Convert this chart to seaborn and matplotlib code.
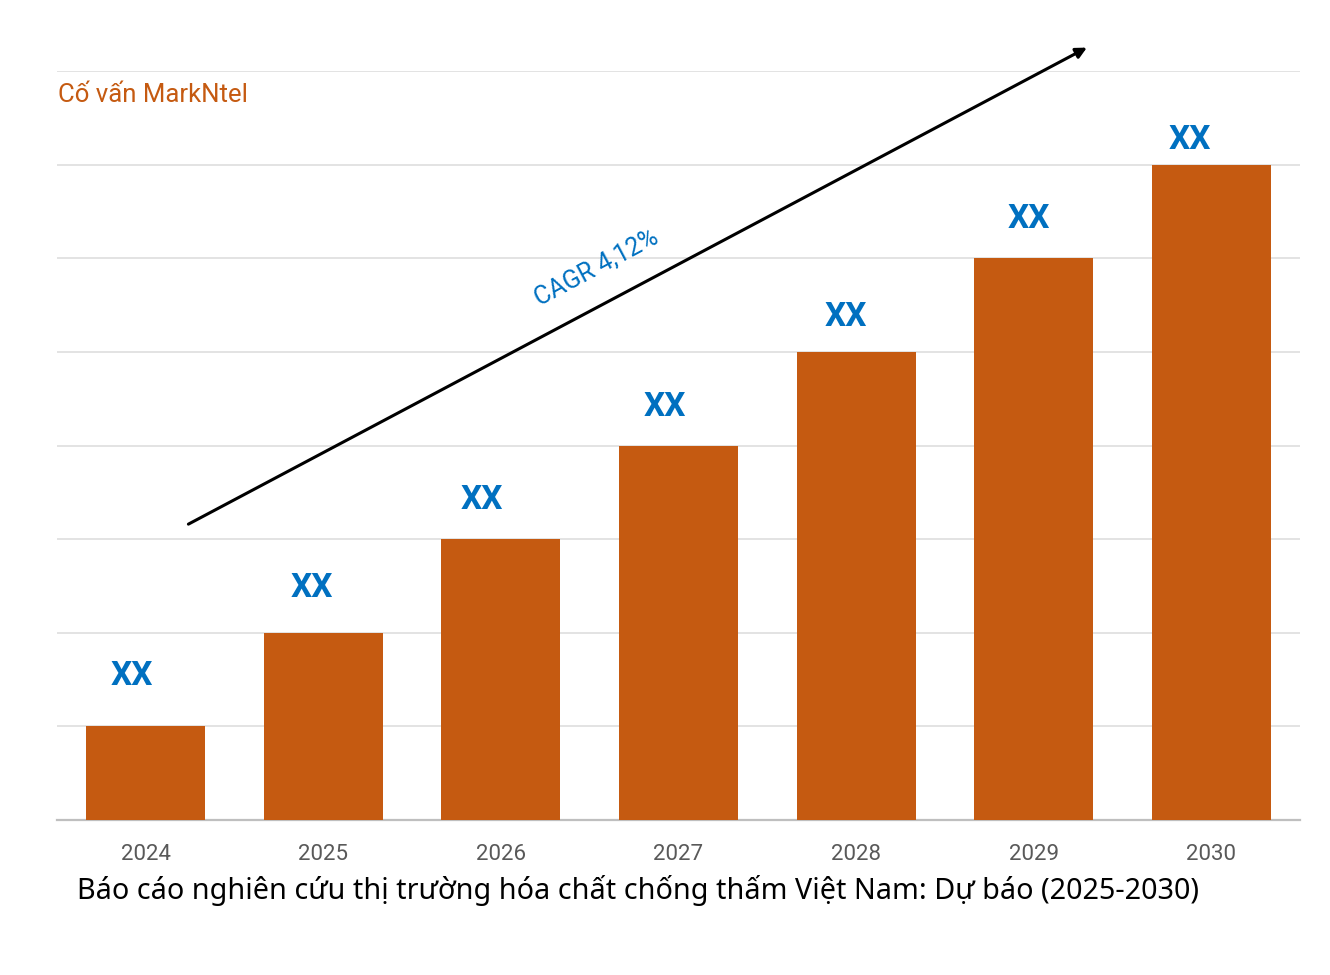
import matplotlib
matplotlib.use("Agg")
import matplotlib.pyplot as plt
import seaborn as sns
import pandas as pd

years = ["2024", "2025", "2026", "2027", "2028", "2029", "2030"]
values = [1, 2, 3, 4, 5, 6, 7]
bar_labels = ["XX"] * 7
title = "Báo cáo nghiên cứu thị trường hóa chất chống thấm Việt Nam: Dự báo (2025-2030)"
source = "Cố vấn MarkNtel"
cagr_text = "CAGR 4,12%"

# label placement offsets (pixels) relative to bar top-center
label_dx = [-14, -11, -19, -14, -10, -5, -21]
label_dy = [50, 45, 39, 38, 35, 39, 25]

sns.set_theme(style="white")
plt.rcParams['font.family'] = ['Roboto', 'DejaVu Sans']

df = pd.DataFrame({"year": years, "value": values})

fig = plt.figure(figsize=(13.3, 9.75), dpi=100)
ax = fig.add_axes([57/1330, 1-820/975, (1300-57)/1330, (820-71)/975])

sns.barplot(data=df, x="year", y="value", color="#C55A11", saturation=1,
            width=0.67, ax=ax, zorder=3, linewidth=0, edgecolor="none")

ax.set_ylim(0, 8)
ax.set_xlim(-0.5, 6.5)
ax.set_yticks(range(1, 9))
ax.set_yticklabels([])
ax.tick_params(axis='y', length=0)
ax.tick_params(axis='x', length=0, labelsize=16, labelcolor="#595959", pad=17.5)
ax.yaxis.grid(True, color="#e3e3e3", linewidth=1.4, zorder=0)
ax.set_axisbelow(True)
ax.set_xlabel("")
ax.set_ylabel("")
for s in ["left", "right", "top"]:
    ax.spines[s].set_visible(False)
ax.spines["bottom"].set_color("#bfbfbf")
ax.spines["bottom"].set_linewidth(1.6)

for i, (v, lab) in enumerate(zip(values, bar_labels)):
    ax.annotate(lab, xy=(i, v), xytext=(label_dx[i] * 0.72, label_dy[i] * 0.72),
                textcoords="offset points", ha="center", va="center",
                fontsize=24, fontweight="bold", color="#0070C0")

ax.annotate("", xy=(5.30, 8.25), xytext=(0.24, 3.16),
            xycoords="data", textcoords="data", annotation_clip=False,
            arrowprops=dict(arrowstyle="-|>", color="black", lw=2.2,
                            mutation_scale=16, shrinkA=0, shrinkB=0))

ax.text(2.54, 5.90, cagr_text, rotation=28, ha="center", va="center",
        fontsize=18, color="#0070C0", rotation_mode="anchor")

fig.text(58/1330, 1-95/975, source, ha="left", va="center",
         fontsize=18.5, color="#C55A11")
fig.text(77/1330, 1-890/975, title, ha="left", va="center",
         fontsize=20.7, color="black", family=["Noto Sans", "DejaVu Sans"])

fig.savefig("out.png", dpi=100, facecolor="white")
